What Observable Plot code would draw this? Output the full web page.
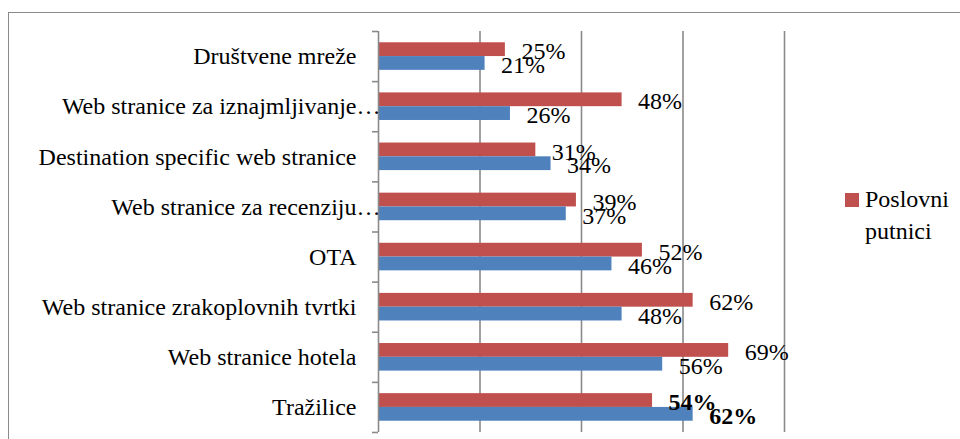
<!DOCTYPE html>
<html>
<head>
<meta charset="utf-8">
<script src="https://cdn.jsdelivr.net/npm/d3@7"></script>
<script src="https://cdn.jsdelivr.net/npm/@observablehq/plot@0.6"></script>
<style>
  html, body { margin: 0; padding: 0; background: #fff; }
  #wrap { position: relative; width: 960px; height: 439px; overflow: hidden; background: #fff; }
  #frame { position: absolute; left: 8px; top: 12px; width: 1000px; height: 1000px; border: 1px solid #8a8a8a; box-sizing: border-box; }
  #chart { position: absolute; left: 0; top: 0; }
  #legend { position: absolute; left: 845px; top: 183px; font-family: "Times New Roman", "Liberation Serif", Times, "DejaVu Serif", serif; font-size: 24px; line-height: 32px; color: #000; }
  #legend .sw { position: absolute; left: 0; top: 10px; width: 14px; height: 14px; background: #C0504D; }
  #legend .lb { position: absolute; left: 20px; top: 0; width: 100px; }
</style>
</head>
<body>
<div id="wrap">
  <div id="frame"></div>
  <div id="chart"></div>
  <div id="legend"><div class="sw"></div><div class="lb">Poslovni putnici</div></div>
</div>
<script>
const categories = [
  "Društvene mreže",
  "Web stranice za iznajmljivanje…",
  "Destination specific web stranice",
  "Web stranice za recenziju…",
  "OTA",
  "Web stranice zrakoplovnih tvrtki",
  "Web stranice hotela",
  "Tražilice"
];
const poslovniPutnici = [25, 48, 31, 39, 52, 62, 69, 54];
const drugiPutnici = [21, 26, 34, 37, 46, 48, 56, 62];
const seriesNames = ["Poslovni putnici", "Ostali"];
const seriesColors = ["#C0504D", "#4F81BD"];
const boldCategories = ["Tražilice"];
const xTicks = [0, 20, 40, 60, 80];

const rows = [];
categories.forEach((c, i) => {
  rows.push({cat: c, idx: i, s: 0, series: seriesNames[0], value: poslovniPutnici[i]});
  rows.push({cat: c, idx: i, s: 1, series: seriesNames[1], value: drugiPutnici[i]});
});
const catRows = categories.map((c, i) => ({cat: c, idx: i}));

const barTop = d => d.idx + (d.s === 0 ? 0.225 : 0.5);
const barBot = d => d.idx + (d.s === 0 ? 0.5 : 0.775);
const barMid = d => d.idx + (d.s === 0 ? 0.3625 : 0.6375);

const grey = "#8a8a8a";
const font = "'Times New Roman', 'Liberation Serif', Times, 'DejaVu Serif', serif";

const chart = Plot.plot({
  width: 960,
  height: 439,
  marginLeft: 378,
  marginRight: 176,
  marginTop: 31,
  marginBottom: 7,
  style: {fontFamily: font, fontSize: "24px", color: "#000", background: "transparent", overflow: "visible"},
  x: {domain: [0, 80], axis: null},
  y: {domain: [0, categories.length], reverse: true, axis: null},
  color: {domain: seriesNames, range: seriesColors},
  marks: [
    Plot.ruleX(xTicks.filter(t => t > 0), {stroke: grey, strokeWidth: 1.6}),
    Plot.rectX(rows, {x1: 0, x2: "value", y1: barTop, y2: barBot, fill: "series"}),
    Plot.ruleX([0], {stroke: grey, strokeWidth: 1.6}),
    Plot.axisY({ticks: d3.range(0, categories.length + 1), tickSize: 6, tickFormat: () => "", stroke: grey, strokeWidth: 1.6}),
    Plot.text(catRows.filter(d => !d.cat.endsWith("…")), {x: 0, y: d => d.idx + 0.5, text: "cat", textAnchor: "end", dx: -22, fontSize: 24, fontFamily: font, fill: "#000"}),
    Plot.text(catRows.filter(d => d.cat.endsWith("…")), {x: 0, y: d => d.idx + 0.5, text: "cat", textAnchor: "end", dx: 2, fontSize: 24, fontFamily: font, fill: "#000"}),
    Plot.text(rows.filter(d => !boldCategories.includes(d.cat)), {x: "value", y: barMid, text: d => d.value + "%", textAnchor: "start", dx: 16, dy: 2, fontSize: 24, fontFamily: font, fill: "#000"}),
    Plot.text(rows.filter(d => boldCategories.includes(d.cat)), {x: "value", y: barMid, text: d => d.value + "%", textAnchor: "start", dx: 16, dy: 2, fontSize: 24, fontWeight: "bold", fontFamily: font, fill: "#000"})
  ]
});
document.getElementById("chart").appendChild(chart);
</script>
</body>
</html>
